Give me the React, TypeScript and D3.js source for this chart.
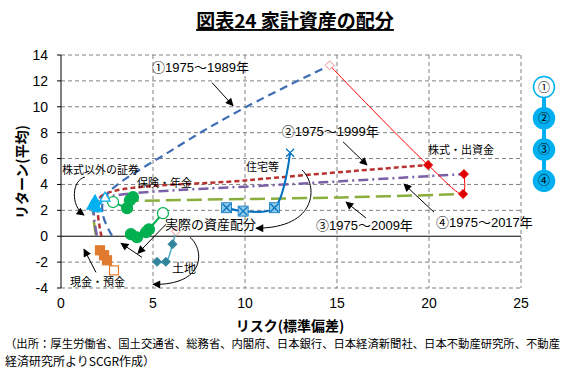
import * as d3 from "d3";

const xTicks = [0, 5, 10, 15, 20, 25];
const yTicks = [-4, -2, 0, 2, 4, 6, 8, 10, 12, 14];

// efficient frontier for each period
const frontier1 = [[2.77, 0.05], [2.28, 1.63], [2.39, 3.02], [6.2, 6.8], [9.95, 9.9], [14.6, 13.2]];
const frontier2 = [[2.2, 0.0], [2.0, 1.9], [2.15, 3.05], [10.3, 4.34], [19.95, 5.5]];
const frontier3 = [[1.9, 0.05], [1.75, 1.8], [1.85, 2.6], [3.9, 2.72], [15.3, 3.0], [21.85, 3.26]];
const frontier4 = [[1.95, 0.05], [1.78, 1.8], [1.9, 2.8], [3.2, 3.2], [13.5, 4.1], [21.9, 4.8]];

// assets, first point = period 1 (hollow)
const stocks = [[14.6, 13.2], [19.95, 5.5], [21.85, 3.26], [21.9, 4.8]];
const securities = [[2.39, 3.02], [1.96, 2.2], [1.68, 2.4], [1.85, 2.8]];
const insurance = [[2.83, 2.64], [3.59, 2.17], [3.75, 2.79], [3.91, 3.02]];
const actual = [[5.54, 1.78], [4.78, 0.54], [4.62, 0.31], [4.13, -0.08], [3.8, 0.16]];
const housing = [[12.45, 6.45], [11.6, 2.2], [9.9, 1.94], [9.0, 2.2]];
const land = [[6.25, 0.39], [6.06, -0.62], [5.7, -1.98], [5.22, -1.98]];
const cash = [[2.88, -2.64], [2.5, -1.86], [2.34, -1.47], [2.12, -1.09]];

const periodLabels = ["①1975～1989年", "②1975～1999年", "③1975～2009年", "④1975～2017年"];
const periodLabelPos = [[4.95, 12.71], [12.0, 7.71], [13.86, 0.5], [20.38, 0.74]];
const periodArrows = [
  [[8.21, 11.86], [9.35, 10.08]],
  [[15.33, 7.29], [16.63, 5.5]],
  [[16.58, 1.4], [15.49, 2.64]],
  [[20.27, 1.86], [18.64, 4.03]],
];

const assetLabels = [
  { t: "株式・出資金", p: [19.95, 6.36], s: 11 },
  { t: "住宅等", p: [10.05, 5.04], s: 11 },
  { t: "保険・年金", p: [4.13, 3.8], s: 11 },
  { t: "株式以外の証券", p: [0.05, 4.8], s: 11 },
  { t: "実際の資産配分", p: [5.65, 0.58], s: 13 },
  { t: "土地", p: [6.03, -2.83], s: 12 },
  { t: "現金・預金", p: [0.49, -3.88], s: 11 },
];
const straightArrows = [
  [[1.9, -2.79], [1.25, -1.0]],
  [[5.71, 0.93], [4.18, -1.32]],
  [[4.4, -1.63], [3.26, -0.54]],
];
const curvedArrows = [
  [[1.3, 4.57], [0.6, 4.34], [0.49, 2.4], [1.25, 1.63]],
  [[13.1, 5.12], [13.97, 3.95], [13.97, 0.62], [10.6, 0.62]],
  [[7.01, -0.08], [7.83, -1.09], [7.83, -3.8], [5.0, -3.72]],
];
const badgeLabels = ["①", "②", "③", "④"];

const W = 570;
const H = 373;
const x = d3.scaleLinear().domain([0, 25]).range([61, 521]);
const y = d3.scaleLinear().domain([-4, 14]).range([288, 55]);
const FONT = '"Liberation Sans", "Noto Sans CJK JP", sans-serif';
const JP = '"Noto Sans CJK JP", sans-serif';

const smooth = d3
  .line<number[]>()
  .x((d) => x(d[0]))
  .y((d) => y(d[1]))
  .curve(d3.curveCatmullRom.alpha(0.5));

function Markers({ pts, kind, color, size }: { pts: number[][]; kind: string; color: string; size: number }) {
  return (
    <g>
      {pts.map((d, i) => {
        const cx = x(d[0]);
        const cy = y(d[1]);
        const hollow = i === 0;
        const fill = hollow ? "#fff" : color;
        const h = size / 2;
        if (kind === "circle")
          return <circle key={i} cx={cx} cy={cy} r={h} fill={fill} stroke={color} strokeWidth={1.2} />;
        if (kind === "square")
          return <rect key={i} x={cx - h} y={cy - h} width={size} height={size} fill={fill} stroke={color} strokeWidth={1.2} />;
        if (kind === "diamond")
          return (
            <path key={i} d={`M${cx},${cy - h}L${cx + h},${cy}L${cx},${cy + h}L${cx - h},${cy}Z`}
              fill={fill} stroke={hollow ? "#e88" : color} strokeWidth={1} />
          );
        if (kind === "triangle")
          return (
            <path key={i} d={`M${cx},${cy - h}L${cx + h},${cy + h * 0.8}L${cx - h},${cy + h * 0.8}Z`}
              fill={fill} stroke={color} strokeWidth={1.2} />
          );
        // x with square
        return (
          <g key={i}>
            {!hollow && <rect x={cx - h} y={cy - h} width={size} height={size} fill="#8ecae6" stroke="#0070C0" strokeWidth={0.8} />}
            <path d={`M${cx - h + 1},${cy - h + 1}L${cx + h - 1},${cy + h - 1}M${cx + h - 1},${cy - h + 1}L${cx - h + 1},${cy + h - 1}`}
              stroke="#0070C0" strokeWidth={1.2} />
          </g>
        );
      })}
    </g>
  );
}

export default function App() {
  const straight = d3.line<number[]>().x((d) => x(d[0])).y((d) => y(d[1]));
  return (
    <svg width={W} height={H} style={{ position: "absolute", left: 0, top: 0, background: "#fff" }} fontFamily={FONT}>
      <defs>
        <marker id="ah" viewBox="0 0 10 10" refX={9} refY={5} markerWidth={9} markerHeight={8} orient="auto-start-reverse">
          <path d="M0,0L10,5L0,10Z" fill="#000" />
        </marker>
      </defs>

      <text x={295} y={28} textAnchor="middle" fontFamily={JP} fontWeight="bold" fontSize={19} textDecoration="underline">
        図表24 家計資産の配分
      </text>

      {/* grid */}
      {yTicks.filter((v) => v !== 0).map((v) => (
        <line key={"gy" + v} x1={x(0)} x2={x(25)} y1={y(v)} y2={y(v)} stroke="#808080" strokeDasharray="4,3" />
      ))}
      {xTicks.filter((v) => v !== 0).map((v) => (
        <line key={"gx" + v} x1={x(v)} x2={x(v)} y1={y(14)} y2={y(-4)} stroke="#808080" strokeDasharray="4,3" />
      ))}
      <line x1={x(0)} x2={x(25)} y1={y(0)} y2={y(0)} stroke="#000" />
      <line x1={x(0)} x2={x(0)} y1={y(14)} y2={y(-4)} stroke="#000" />
      {yTicks.map((v) => (
        <g key={"ty" + v}>
          <line x1={x(0) - 4} x2={x(0)} y1={y(v)} y2={y(v)} stroke="#000" />
          <text x={48} y={y(v) + 5} textAnchor="end" fontSize={14}>{v}</text>
        </g>
      ))}
      {xTicks.map((v) => (
        <text key={"tx" + v} x={x(v)} y={308} textAnchor="middle" fontSize={14}>{v}</text>
      ))}
      <text x={290} y={331} textAnchor="middle" fontFamily={JP} fontWeight="bold" fontSize={14}>リスク(標準偏差)</text>
      <text transform="translate(27,172) rotate(-90)" textAnchor="middle" fontFamily={JP} fontWeight="bold" fontSize={14}>
        リターン(平均)
      </text>

      {/* frontiers */}
      <path d={smooth(frontier3)!} fill="none" stroke="#8AAE3C" strokeWidth={2.5} strokeDasharray="15,6" />
      <path d={smooth(frontier4)!} fill="none" stroke="#7A60A6" strokeWidth={2.5} strokeDasharray="10,4,2,4" />
      <path d={smooth(frontier2)!} fill="none" stroke="#B83330" strokeWidth={2.5} strokeDasharray="5,3" />
      <path d={smooth(frontier1)!} fill="none" stroke="#3D6DB5" strokeWidth={2.2} strokeDasharray="8,5" />

      {/* assets */}
      <path d={smooth(stocks)!} fill="none" stroke="#FF0000" strokeWidth={1} />
      <path d={straight(cash)!} fill="none" stroke="#E07A2E" strokeWidth={1.5} />
      <path d={smooth(land)!} fill="none" stroke="#4BACC6" strokeWidth={1.5} />
      <path d={smooth(housing)!} fill="none" stroke="#0070C0" strokeWidth={2} />
      <path d={straight(insurance)!} fill="none" stroke="#00B050" strokeWidth={2} />
      <path d={straight(actual)!} fill="none" stroke="#00B050" strokeWidth={2} />
      <path d={straight(securities)!} fill="none" stroke="#00B0F0" strokeWidth={2} />

      <Markers pts={stocks} kind="diamond" color="#E00000" size={9} />
      <Markers pts={cash} kind="square" color="#E07A2E" size={9} />
      <Markers pts={land} kind="diamond" color="#31849B" size={9} />
      <Markers pts={housing} kind="xsq" color="#0070C0" size={10} />
      <Markers pts={insurance} kind="circle" color="#00B050" size={11} />
      <Markers pts={actual} kind="circle" color="#00B050" size={11} />
      <Markers pts={securities} kind="triangle" color="#00B0F0" size={10} />

      {/* annotations */}
      {periodLabels.map((t, i) => (
        <text key={t} x={x(periodLabelPos[i][0])} y={y(periodLabelPos[i][1])} fontSize={13}>{t}</text>
      ))}
      {periodArrows.concat(straightArrows).map((a, i) => (
        <path key={"a" + i} d={straight(a)!} stroke="#000" strokeWidth={1} fill="none" markerEnd="url(#ah)" />
      ))}
      {curvedArrows.map((c, i) => (
        <path key={"c" + i}
          d={`M${x(c[0][0])},${y(c[0][1])}C${x(c[1][0])},${y(c[1][1])} ${x(c[2][0])},${y(c[2][1])} ${x(c[3][0])},${y(c[3][1])}`}
          stroke="#000" strokeWidth={1} fill="none" markerEnd="url(#ah)" />
      ))}
      {assetLabels.map((l) => (
        <text key={l.t} x={x(l.p[0])} y={y(l.p[1])} fontFamily={JP} fontSize={l.s}>{l.t}</text>
      ))}

      {/* period badges */}
      <line x1={544} x2={544} y1={87} y2={181} stroke="#00B0F0" strokeWidth={4} />
      {badgeLabels.map((b, i) => (
        <g key={b}>
          <circle cx={544} cy={87 + i * 31.3} r={10.5} fill={i === 0 ? "#fff" : "#00B0F0"} stroke="#00B0F0" strokeWidth={1.5} />
          <text x={544} y={87 + i * 31.3 + 4.5} textAnchor="middle" fontFamily={JP} fontSize={12}>{b}</text>
        </g>
      ))}

      <text x={5} y={348} fontFamily={JP} fontSize={11.5} textLength={555} lengthAdjust="spacingAndGlyphs">
        （出所：厚生労働省、国土交通省、総務省、内閣府、日本銀行、日本経済新聞社、日本不動産研究所、不動産
      </text>
      <text x={5} y={366} fontFamily={JP} fontSize={12}>経済研究所よりSCGR作成）</text>
    </svg>
  );
}
